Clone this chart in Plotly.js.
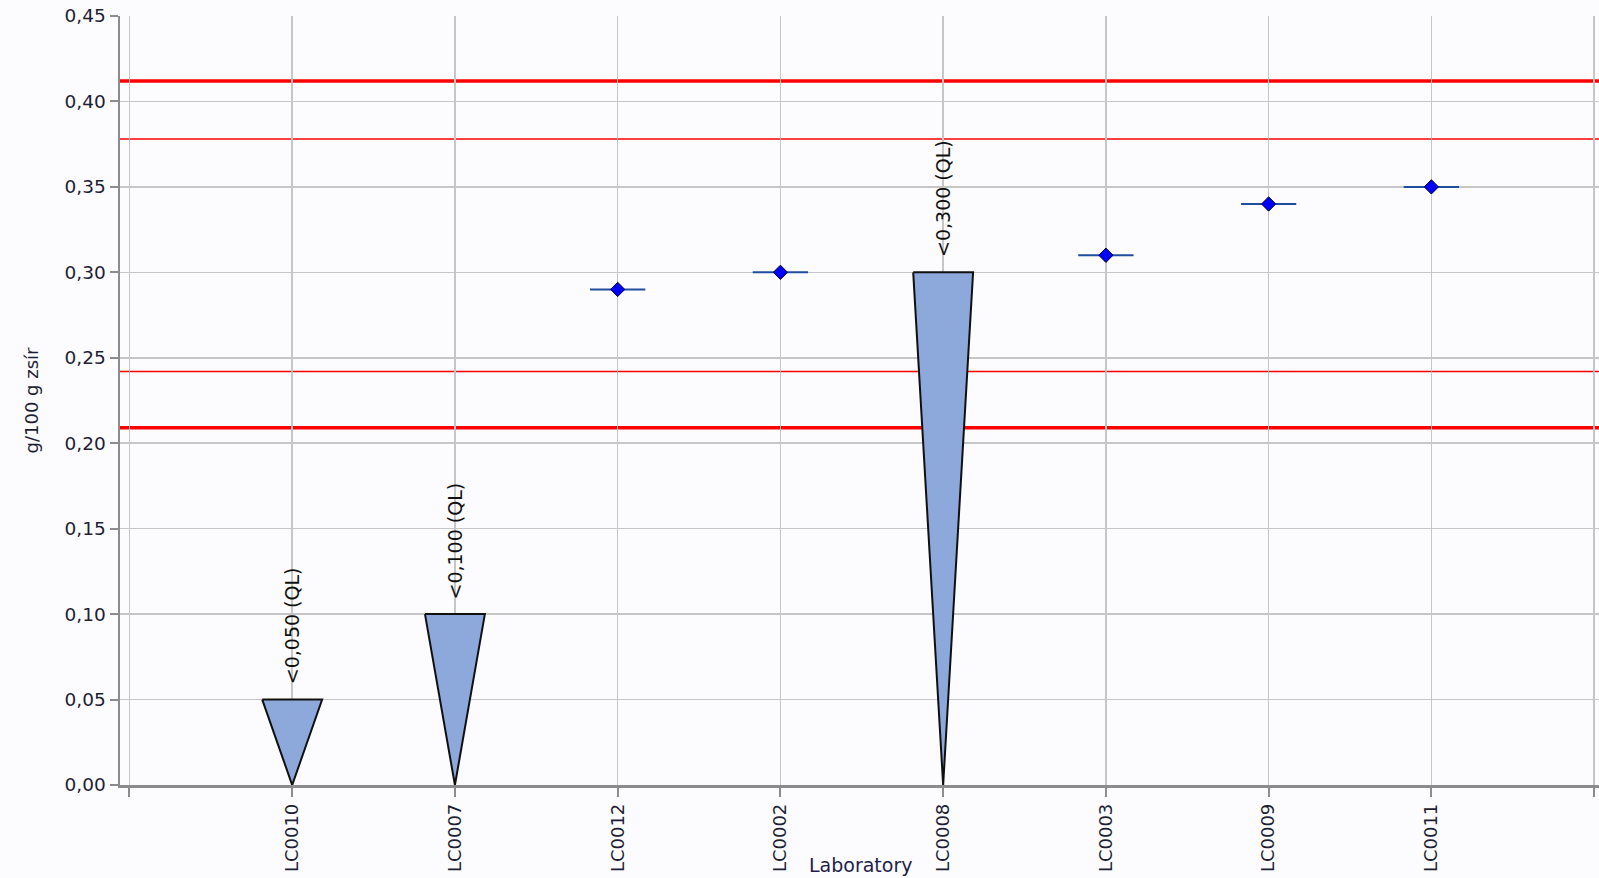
<!DOCTYPE html>
<html><head><meta charset="utf-8">
<script src="https://cdn.plot.ly/plotly-3.0.1.min.js"></script>
<style>html,body{margin:0;padding:0;background:#fcfcfe;overflow:hidden}</style>
</head><body><div id="chart" style="width:1599px;height:878px"></div>
<script>
// ---- data ----
const labs = ['LC0010','LC0007','LC0012','LC0002','LC0008','LC0003','LC0009','LC0011'];
const ltLabs = ['LC0010','LC0007','LC0008'];
const ltValues = [0.05, 0.10, 0.30];
const ltText = ['<0,050 (QL)','<0,100 (QL)','<0,300 (QL)'];
const ptLabs = ['LC0012','LC0002','LC0003','LC0009','LC0011'];
const ptValues = [0.29, 0.30, 0.31, 0.34, 0.35];
const limitOuter = [0.209, 0.412];
const limitInner = [0.242, 0.378];
const yTickVals = [0,0.05,0.10,0.15,0.20,0.25,0.30,0.35,0.40,0.45];

// ---- build ----
const pos = l => labs.indexOf(l) + 1;
const halfW = 0.184;   // half width of the "<QL" wedge, in category units
const barHalf = 0.17;  // half length of the horizontal bar through each point

const traces = [];
ltLabs.forEach((l, i) => {
  const c = pos(l), v = ltValues[i];
  traces.push({
    type: 'scatter', mode: 'lines', fill: 'toself',
    x: [c - halfW, c + halfW, c, c - halfW],
    y: [v, v, 0, v],
    fillcolor: '#8da9db',
    line: {color: '#101010', width: 2},
    hoverinfo: 'skip', showlegend: false
  });
});
traces.push({
  type: 'scatter', mode: 'markers',
  x: ptLabs.map(pos), y: ptValues,
  marker: {symbol: 'diamond', size: 11, color: '#0000ff', line: {color: '#000022', width: 1}},
  error_x: {type: 'constant', value: barHalf, width: 0, thickness: 2, color: '#1f4e9e'},
  showlegend: false
});

const shapes = [];
limitOuter.forEach(v => shapes.push({type: 'line', xref: 'x domain', x0: 0, x1: 1, yref: 'y', y0: v, y1: v, layer: 'below', line: {color: '#ff0000', width: 3.5}}));
limitInner.forEach(v => shapes.push({type: 'line', xref: 'x domain', x0: 0, x1: 1, yref: 'y', y0: v, y1: v, layer: 'below', line: {color: '#ff0000', width: 1.5}}));

const txtColor = '#1e1e34';
const font = 'DejaVu Sans, Arial, sans-serif';
const annotations = ltLabs.map((l, i) => ({
  x: pos(l), y: ltValues[i], xref: 'x', yref: 'y',
  text: ltText[i].replace(/</g, '&lt;'), showarrow: false, textangle: -90,
  xanchor: 'center', yanchor: 'bottom', yshift: 13,
  font: {family: font, size: 19, color: '#111111'}
}));
annotations.push({
  text: 'Laboratory', xref: 'paper', yref: 'paper', x: 0.5007, y: 0, yshift: -80,
  xanchor: 'center', yanchor: 'middle', showarrow: false,
  font: {family: font, size: 19, color: '#1e1e4a'}
});

const layout = {
  width: 1599, height: 878,
  margin: {l: 120, r: 0, t: 16, b: 93},
  paper_bgcolor: '#fcfcfe', plot_bgcolor: '#fcfcfe',
  showlegend: false,
  xaxis: {
    range: [-0.058, 9.03], tickmode: 'array',
    tickvals: [0,1,2,3,4,5,6,7,8,9], ticktext: [''].concat(labs, ['']),
    tickangle: -90, ticks: 'outside', ticklen: 9, tickwidth: 2, tickcolor: '#8c8c8c',
    showgrid: true, gridcolor: '#c6c6c6', gridwidth: 1.5,
    showline: true, linecolor: '#8c8c8c', linewidth: 2.5,
    zeroline: false, tickfont: {family: font, size: 18, color: txtColor}
  },
  yaxis: {
    range: [0, 0.45], tickmode: 'array', tickvals: yTickVals, tickformat: '.2f',
    ticks: 'outside', ticklen: 8, tickwidth: 2, tickcolor: '#8c8c8c',
    showgrid: true, gridcolor: '#c6c6c6', gridwidth: 1.5,
    showline: true, linecolor: '#8c8c8c', linewidth: 2.5, zeroline: false,
    tickfont: {family: font, size: 18.5, color: txtColor},
    title: {text: 'g/100 g zsír', standoff: 22, font: {family: font, size: 18, color: txtColor}}
  },
  separators: ', ',
  shapes: shapes,
  annotations: annotations
};
Plotly.newPlot('chart', traces, layout, {displayModeBar: false, staticPlot: true});
</script></body></html>
